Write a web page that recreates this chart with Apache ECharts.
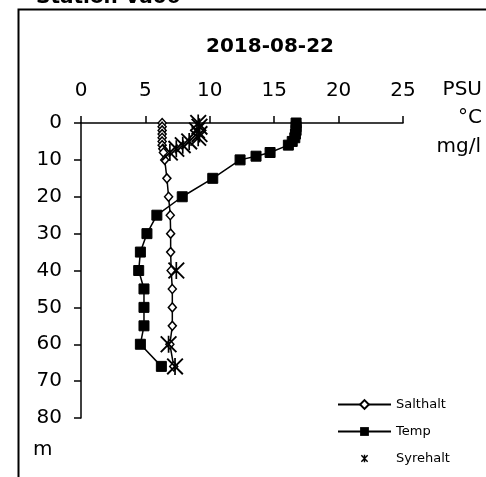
<!DOCTYPE html>
<html><head><meta charset="utf-8">
<script src="https://cdn.jsdelivr.net/npm/echarts@6/dist/echarts.min.js"></script>
<style>html,body{margin:0;padding:0;background:#fff}#c{width:486px;height:477px}</style>
</head><body><div id="c"></div>
<script>
const stationTitle = 'Station Vå06';
const dateTitle = '2018-08-22';
const xTicks = [0, 5, 10, 15, 20, 25];
const yTicks = [0, 10, 20, 30, 40, 50, 60, 70, 80];
const unitLabels = ['PSU', '°C', 'mg/l'];
const depthUnit = 'm';

const saltDepth = [0, 1, 2, 3, 4, 5, 6, 7, 8, 10, 15, 20, 25, 30, 35, 40, 45, 50, 55, 60, 66];
const saltValue = [6.3, 6.3, 6.3, 6.3, 6.3, 6.3, 6.3, 6.35, 6.4, 6.5, 6.67, 6.8, 6.93, 6.96, 6.96, 7.0, 7.09, 7.09, 7.09, 6.9, 7.2];

const tempDepth = [0, 1, 2, 3, 4, 5, 6, 8, 9, 10, 15, 20, 25, 30, 35, 40, 45, 50, 55, 60, 66];
const tempValue = [16.7, 16.7, 16.7, 16.65, 16.6, 16.4, 16.1, 14.68, 13.59, 12.35, 10.23, 7.86, 5.89, 5.12, 4.61, 4.48, 4.89, 4.89, 4.89, 4.61, 6.24];

const oxyDepth = [0, 1, 2, 3, 4, 5, 6, 7, 8, 40, 60, 66];
const oxyValue = [9.1, 9.2, 9.0, 9.2, 9.1, 8.4, 7.9, 7.4, 6.9, 7.4, 6.8, 7.3];

const seriesNames = ['Salthalt', 'Temp', 'Syrehalt'];

const pair = (xs, ys) => xs.map((v, i) => [v, ys[i]]);
const STAR = 'path://M0,8L8,0L100,92L92,100Z M92,0L100,8L8,100L0,92Z M45,0L55,0L55,100L45,100Z';
const STAR_LEG = 'path://M-25,-25L-25,-25Z M125,125L125,125Z M0,14L14,0L100,86L86,100Z M86,0L100,14L14,100L0,86Z M40,0L60,0L60,100L40,100Z';
const FONT = 'DejaVu Sans';

const chart = echarts.init(document.getElementById('c'), null, {renderer: 'canvas'});
chart.setOption({
  animation: false,
  backgroundColor: '#fff',
  textStyle: {fontFamily: FONT, color: '#000'},
  grid: {left: 81, right: 83, top: 123, bottom: 59},
  xAxis: {
    type: 'value', position: 'top', min: xTicks[0], max: xTicks[xTicks.length - 1], interval: 5,
    axisLine: {onZero: false, lineStyle: {color: '#000', width: 1.5}},
    axisTick: {show: true, inside: false, length: 7, lineStyle: {color: '#000', width: 1.5}},
    axisLabel: {margin: 22, fontSize: 20, fontFamily: FONT, color: '#000',
      formatter: v => xTicks.includes(v) ? String(v) : ''},
    splitLine: {show: false}
  },
  yAxis: {
    type: 'value', inverse: true, min: yTicks[0], max: yTicks[yTicks.length - 1], interval: 10,
    axisLine: {onZero: false, lineStyle: {color: '#000', width: 1.5}},
    axisTick: {show: true, inside: false, length: 7, lineStyle: {color: '#000', width: 1.5}},
    axisLabel: {margin: 19, fontSize: 20, fontFamily: FONT, color: '#000',
      formatter: v => yTicks.includes(v) ? String(v) : ''},
    splitLine: {show: false}
  },
  legend: {
    orient: 'vertical', left: 332, top: 393, itemWidth: 53, itemHeight: 11, itemGap: 14,
    textStyle: {fontFamily: FONT, fontSize: 13, color: '#000'},
    data: [
      {name: seriesNames[0]},
      {name: seriesNames[1]},
      {name: seriesNames[2], icon: STAR_LEG}
    ]
  },
  series: [
    {
      name: seriesNames[0], type: 'line', data: pair(saltValue, saltDepth),
      symbol: 'diamond', symbolSize: [8, 9], showSymbol: true,
      lineStyle: {color: '#000', width: 1.5},
      itemStyle: {color: '#fff', borderColor: '#000', borderWidth: 1.5},
      z: 2
    },
    {
      name: seriesNames[1], type: 'line', data: pair(tempValue, tempDepth),
      symbol: 'rect', symbolSize: 10,
      lineStyle: {color: '#000', width: 1.5},
      itemStyle: {color: '#000', borderColor: '#000'},
      z: 3
    },
    {
      name: seriesNames[2], type: 'scatter', data: pair(oxyValue, oxyDepth),
      symbol: STAR, symbolSize: 17,
      itemStyle: {color: '#000', opacity: 1},
      z: 4
    }
  ],
  graphic: [
    {type: 'rect', shape: {x: 18.5, y: 9.5, width: 520, height: 520}, style: {fill: 'none', stroke: '#000', lineWidth: 2}, silent: true},
    {type: 'text', x: 36, y: -2, style: {text: stationTitle, font: 'bold 20px "' + FONT + '"', fill: '#000', verticalAlign: 'middle'}},
    {type: 'text', x: 270, y: 47, style: {text: dateTitle, font: 'bold 20px "' + FONT + '"', fill: '#000', align: 'center', verticalAlign: 'middle'}},
    {type: 'text', x: 482, y: 90, style: {text: unitLabels[0], font: '20px "' + FONT + '"', fill: '#000', align: 'right', verticalAlign: 'middle'}},
    {type: 'text', x: 482, y: 118, style: {text: unitLabels[1], font: '20px "' + FONT + '"', fill: '#000', align: 'right', verticalAlign: 'middle'}},
    {type: 'text', x: 481, y: 147, style: {text: unitLabels[2], font: '20px "' + FONT + '"', fill: '#000', align: 'right', verticalAlign: 'middle'}},
    {type: 'text', x: 33, y: 450, style: {text: depthUnit, font: '20px "' + FONT + '"', fill: '#000', align: 'left', verticalAlign: 'middle'}}
  ]
});
</script></body></html>
